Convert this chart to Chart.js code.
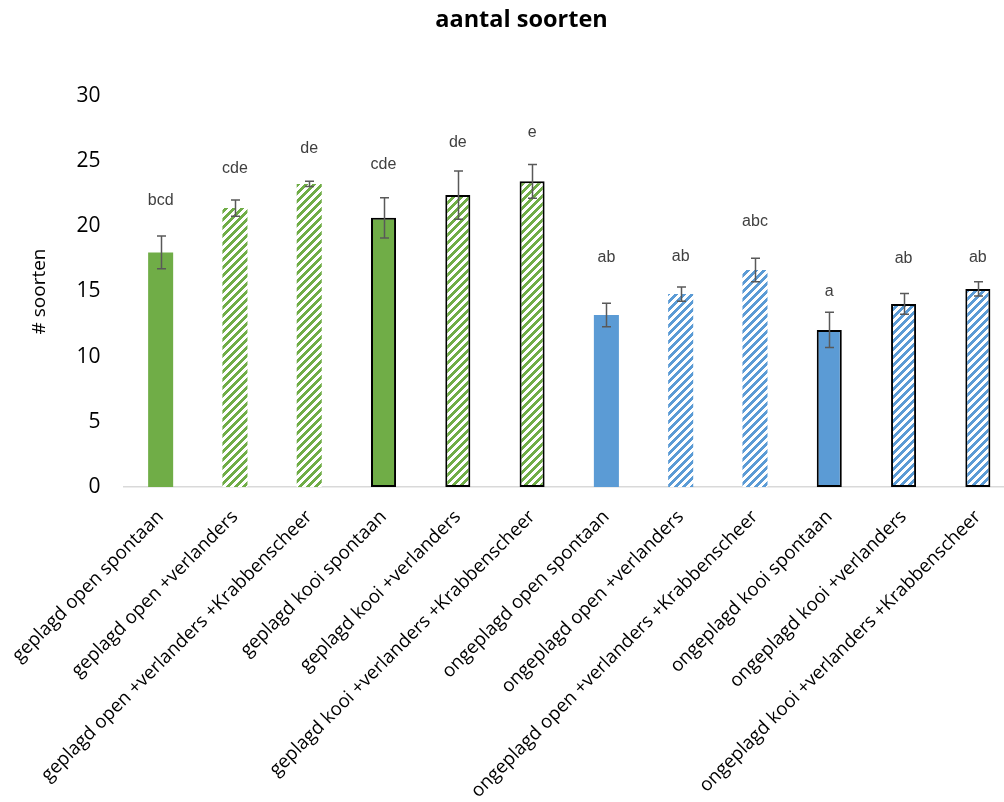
<!DOCTYPE html>
<html>
<head>
<meta charset="utf-8">
<script src="https://cdn.jsdelivr.net/npm/chart.js@4.4.1/dist/chart.umd.min.js"></script>
<style>
  html, body { margin: 0; padding: 0; background: #fff; overflow: hidden; }
  #wrap { width: 1015px; height: 802px; }
</style>
</head>
<body>
<div id="wrap"><canvas id="chart" width="1015" height="802"></canvas></div>
<script>
// categorieën
const labels = [
    'geplagd open spontaan',
    'geplagd open +verlanders',
    'geplagd open +verlanders +Krabbenscheer',
    'geplagd kooi spontaan',
    'geplagd kooi +verlanders',
    'geplagd kooi +verlanders +Krabbenscheer',
    'ongeplagd open spontaan',
    'ongeplagd open +verlanders',
    'ongeplagd open +verlanders +Krabbenscheer',
    'ongeplagd kooi spontaan',
    'ongeplagd kooi +verlanders',
    'ongeplagd kooi +verlanders +Krabbenscheer'
];

// gemiddeld aantal soorten
const means = [18.0, 21.4, 23.25, 20.65, 22.4, 23.45, 13.2, 14.8, 16.65, 12.05, 14.05, 15.2];

// standaardfout
const errors = [1.25, 0.63, 0.2, 1.55, 1.85, 1.3, 0.9, 0.55, 0.9, 1.35, 0.8, 0.55];

// significantie letters en hoogte waarop ze staan
const letters = ['bcd', 'cde', 'de', 'cde', 'de', 'e', 'ab', 'ab', 'abc', 'a', 'ab', 'ab'];
const letterY = [22.0, 24.4, 26.0, 24.7, 26.4, 27.2, 17.6, 17.65, 20.4, 15.0, 17.5, 17.6];

// y-as
const yMin = 0;
const yMax = 30;
const yStep = 5;

const GREEN = '#70AD47';
const BLUE = '#5B9BD5';

// gestreept patroon (schuin omhoog)
function makeHatch(color) {
    const c = document.createElement('canvas');
    c.width = 8;
    c.height = 8;
    const g = c.getContext('2d');
    g.fillStyle = '#ffffff';
    g.fillRect(0, 0, 8, 8);
    g.fillStyle = color;
    for (let x = 0; x < 8; x++) {
        for (let y = 0; y < 8; y++) {
            if ((x + y) % 8 < 4) g.fillRect(x, y, 1, 1);
        }
    }
    return g.createPattern(c, 'repeat');
}

const hatchGreen = makeHatch(GREEN);
const hatchBlue = makeHatch(BLUE);

const fills = labels.map(l => {
    const blue = l.startsWith('ongeplagd');
    if (l.includes('+')) return blue ? hatchBlue : hatchGreen;
    return blue ? BLUE : GREEN;
});
const borderWidths = labels.map(l => l.includes('kooi') ? 2 : 0);

// foutbalken
const errorBars = {
    id: 'errorBars',
    afterDatasetsDraw(chart) {
        const ctx = chart.ctx;
        const y = chart.scales.y;
        const meta = chart.getDatasetMeta(0);
        ctx.save();
        ctx.strokeStyle = '#595959';
        ctx.lineWidth = 1.5;
        meta.data.forEach((bar, i) => {
            const x = Math.round(bar.x) + 0.5;
            const top = y.getPixelForValue(means[i] + errors[i]);
            const bot = y.getPixelForValue(means[i] - errors[i]);
            ctx.beginPath();
            ctx.moveTo(x, top);
            ctx.lineTo(x, bot);
            ctx.moveTo(x - 4.5, top);
            ctx.lineTo(x + 4.5, top);
            ctx.moveTo(x - 4.5, bot);
            ctx.lineTo(x + 4.5, bot);
            ctx.stroke();
        });
        ctx.restore();
    }
};

// letters boven de balken
const letterLabels = {
    id: 'letterLabels',
    afterDatasetsDraw(chart) {
        const ctx = chart.ctx;
        const y = chart.scales.y;
        const meta = chart.getDatasetMeta(0);
        ctx.save();
        ctx.fillStyle = '#404040';
        ctx.font = '16px "Liberation Sans", Arial, sans-serif';
        ctx.textAlign = 'center';
        ctx.textBaseline = 'middle';
        meta.data.forEach((bar, i) => {
            ctx.fillText(letters[i], bar.x, y.getPixelForValue(letterY[i]));
        });
        ctx.restore();
    }
};

const ctx = document.getElementById('chart').getContext('2d');
const chart = new Chart(ctx, {
    type: 'bar',
    data: {
        labels: labels,
        datasets: [{
            data: means,
            backgroundColor: fills,
            borderColor: '#000000',
            borderWidth: borderWidths,
            borderSkipped: false,
            barPercentage: 0.337,
            categoryPercentage: 1.0
        }]
    },
    options: {
        responsive: false,
        animation: false,
        layout: {
            padding: { left: 28, right: 0, top: 0, bottom: 0 }
        },
        plugins: {
            legend: { display: false },
            tooltip: { enabled: false },
            title: {
                display: true,
                text: 'aantal soorten',
                color: '#000000',
                font: { family: '"Open Sans"', size: 23.5, weight: 'bold' },
                padding: { top: 6, bottom: 61.8 }
            }
        },
        scales: {
            x: {
                grid: { display: false, drawTicks: false },
                border: { display: true, color: '#d9d9d9', width: 1.5 },
                ticks: {
                    autoSkip: false,
                    maxRotation: 45,
                    minRotation: 45,
                    padding: 19,
                    color: '#000000',
                    font: { family: '"Open Sans"', size: 18.7 }
                },
                afterFit(scale) {
                    scale.height = 315;
                    scale.paddingLeft = 0;
                    scale.paddingRight = 0;
                }
            },
            y: {
                min: yMin,
                max: yMax,
                grid: { display: false, drawTicks: false },
                border: { display: false },
                ticks: {
                    stepSize: yStep,
                    padding: 23,
                    color: '#000000',
                    font: { family: '"Open Sans"', size: 21 }
                },
                title: {
                    display: true,
                    text: '# soorten',
                    color: '#000000',
                    font: { family: '"Open Sans"', size: 19 },
                    padding: { top: 0, bottom: 0 }
                },
                afterFit(scale) {
                    scale.width = 95.5;
                }
            }
        }
    },
    plugins: [errorBars, letterLabels]
});
</script>
</body>
</html>
